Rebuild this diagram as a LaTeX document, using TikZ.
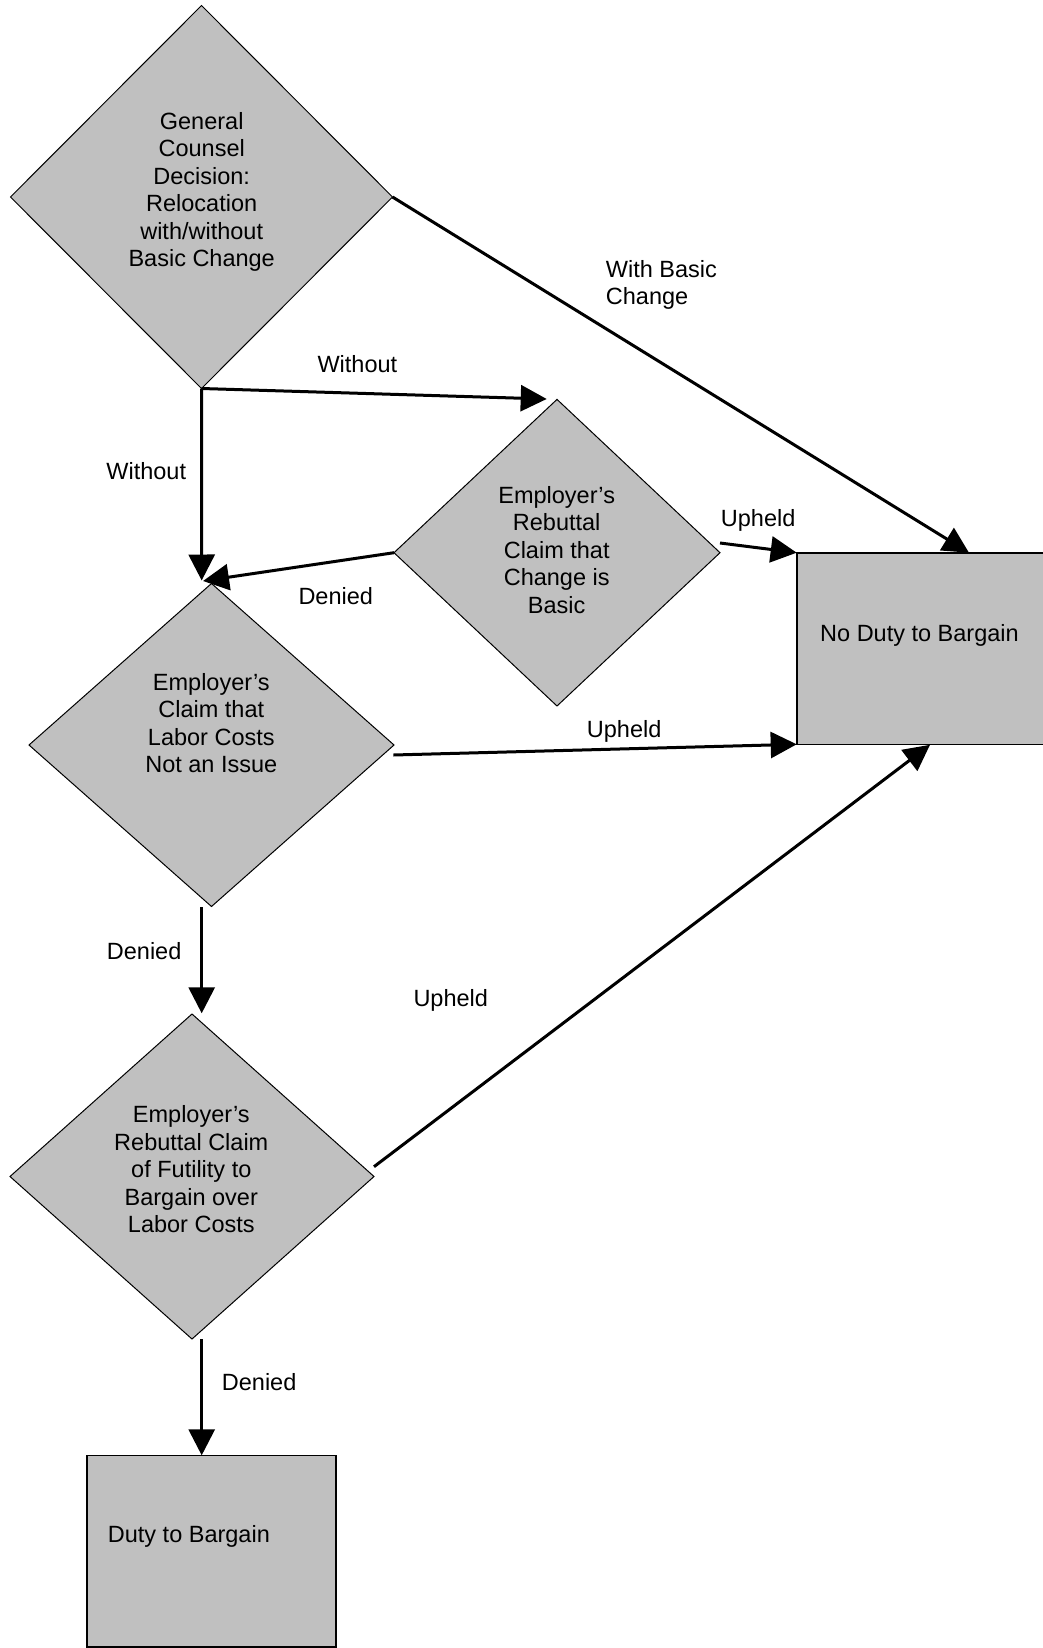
\documentclass[tikz,border=0pt]{standalone}
\usepackage{fontspec}
\setmainfont{Liberation Sans}
\usetikzlibrary{arrows.meta,shapes.geometric}
\definecolor{boxgray}{RGB}{192,192,192}
\begin{document}
\begin{tikzpicture}[x=1pt,y=-1pt,
  dec/.style={diamond, draw=black, fill=boxgray, line width=1pt, inner sep=0pt, outer sep=0pt},
  endbox/.style={rectangle, draw=black, fill=boxgray, line width=1.6pt, inner sep=0pt, outer sep=0pt},
  txt/.style={font=\fontsize{23.5}{27.5}\selectfont, inner sep=0pt, align=center, anchor=base},
  lbl/.style={font=\fontsize{23.5}{27.5}\selectfont, inner sep=0pt, align=left, anchor=base west},
  flow/.style={line width=3pt, -{Triangle[length=26pt,width=26pt]}}
]
\useasboundingbox (0,0) rectangle (1042,1648);

% decision diamonds
\node[dec, minimum width=382pt, minimum height=383pt] (d1) at (201.5,197) {};
\node[dec, minimum width=326pt, minimum height=306.6pt] (d2) at (557,552.7) {};
\node[dec, minimum width=365pt, minimum height=323pt] (d3) at (211.5,745) {};
\node[dec, minimum width=364pt, minimum height=325pt] (d4) at (192,1176.5) {};

% end boxes
\node[endbox, minimum width=252pt, minimum height=191.6pt] (b1) at (922.7,648.5) {};
\node[endbox, minimum width=249.3pt, minimum height=191.4pt] (b2) at (211.35,1551) {};

% texts inside shapes (base anchor = baseline of the last line)
\node[txt] (t-d1) at (201.7,266.8) {General\\Counsel\\Decision:\\Relocation\\with/without\\Basic Change};
\node[txt] (t-d2) at (556.7,613.3) {Employer’s\\Rebuttal\\Claim that\\Change is\\Basic};
\node[txt] (t-d3) at (211.3,772.5) {Employer’s\\Claim that\\Labor Costs\\Not an Issue};
\node[txt] (t-d4) at (191.3,1232.7) {Employer’s\\Rebuttal Claim\\of Futility to\\Bargain over\\Labor Costs};
\node[lbl] (t-b1) at (820,641) {No Duty to Bargain};
\node[lbl] (t-b2) at (107.7,1542.7) {Duty to Bargain};

% connector end points
\coordinate (e1) at (969,552.7);
\coordinate (e2) at (546.7,399);
\coordinate (e3) at (201.7,580.5);
\coordinate (e4) at (203,581);
\coordinate (s5) at (720,543);
\coordinate (s6) at (393.3,755);
\coordinate (s7) at (201.7,907);
\coordinate (e7) at (201.7,1013.3);
\coordinate (s8) at (374,1166.7);
\coordinate (e8) at (930,744.8);
\coordinate (s9) at (201.7,1339.3);
\coordinate (e9) at (201.7,1455.3);

% connectors
\draw[flow] (d1.east) -- (e1);
\draw[flow] (d1.south) -- (e2);
\draw[flow] (d1.south) -- (e3);
\draw[flow] (d2.west) -- (e4);
\draw[flow] (s5) -- (b1.north west);
\draw[flow] (s6) -- (b1.south west);
\draw[flow] (s7) -- (e7);
\draw[flow] (s8) -- (e8);
\draw[flow] (s9) -- (e9);

% connector labels
\node[lbl] (l1) at (605.7,304.8) {With Basic\\Change};
\node[lbl] (l2) at (317.3,372.7) {Without};
\node[lbl] (l3) at (106.2,479) {Without};
\node[lbl] (l4) at (298.3,604) {Denied};
\node[lbl] (l5) at (720.7,526.7) {Upheld};
\node[lbl] (l6) at (586.7,737.7) {Upheld};
\node[lbl] (l7) at (106.7,959) {Denied};
\node[lbl] (l8) at (413.3,1006.7) {Upheld};
\node[lbl] (l9) at (221.7,1390.7) {Denied};
\end{tikzpicture}
\end{document}
